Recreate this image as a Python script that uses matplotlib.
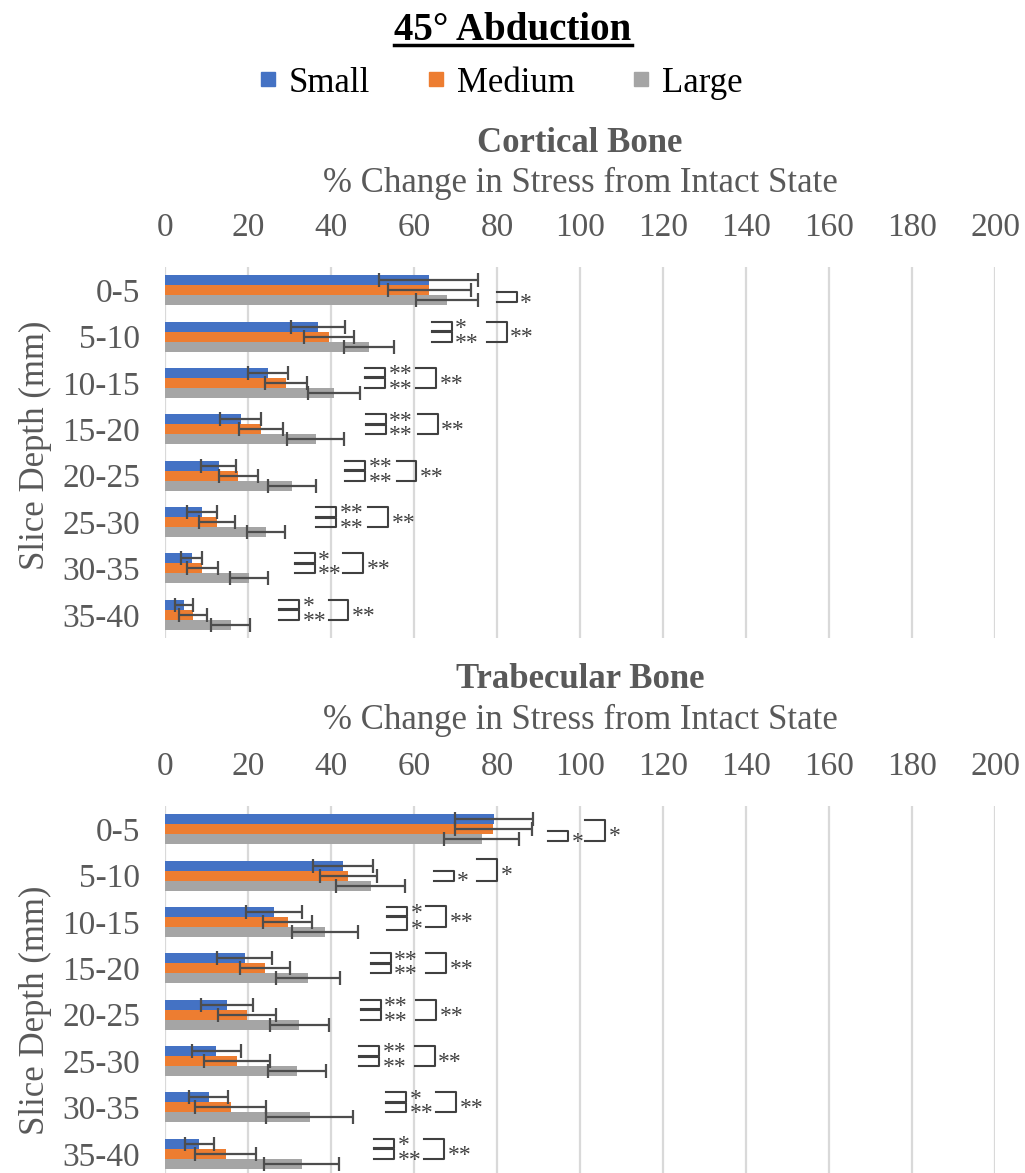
import numpy as np
import matplotlib.pyplot as plt
from matplotlib.lines import Line2D

plt.rcParams['font.family'] = ['Liberation Serif', 'DejaVu Serif']

# data
depths = ['0-5', '5-10', '10-15', '15-20', '20-25', '25-30', '30-35', '35-40']
sizes = ['Small', 'Medium', 'Large']
colors = ['#4472C4', '#ED7D31', '#A5A5A5']

cort_small = [63.5, 36.8, 24.8, 18.2, 12.9, 9.0, 6.4, 4.6]
cort_medium = [63.7, 39.6, 29.2, 23.2, 17.7, 12.5, 9.0, 6.7]
cort_large = [67.9, 49.2, 40.8, 36.3, 30.7, 24.3, 20.2, 15.8]
cort_small_err = [12.0, 6.5, 4.8, 4.9, 4.3, 3.6, 2.5, 2.1]
cort_medium_err = [10.0, 6.0, 5.0, 5.3, 4.8, 4.3, 3.8, 3.3]
cort_large_err = [7.5, 6.1, 6.3, 6.8, 5.8, 4.6, 4.5, 4.6]

trab_small = [79.3, 42.8, 26.3, 19.2, 14.9, 12.4, 10.5, 8.2]
trab_medium = [79.1, 44.2, 29.6, 24.1, 19.7, 17.4, 15.8, 14.6]
trab_large = [76.3, 49.6, 38.6, 34.4, 32.4, 31.7, 34.9, 32.9]
trab_small_err = [9.4, 7.2, 6.7, 6.6, 6.3, 5.8, 4.7, 3.5]
trab_medium_err = [9.3, 6.9, 5.9, 6.1, 7.0, 7.9, 8.5, 7.3]
trab_large_err = [9.0, 8.3, 8.0, 7.7, 7.0, 7.0, 10.5, 9.0]

xticks = [0, 20, 40, 60, 80, 100, 120, 140, 160, 180, 200]

# significance brackets: (depth index, left x, top, bottom [in bar heights], label)
cort_brackets = [
    (0, 79.9, 0.2, 1.2, '*'),
    (1, 64.3, -1.5, -0.55, '*'), (1, 64.3, -0.45, 0.5, '**'), (1, 77.5, -1.5, 0.5, '**'),
    (2, 48.2, -1.5, -0.55, '**'), (2, 48.2, -0.45, 0.5, '**'), (2, 60.6, -1.5, 0.5, '**'),
    (3, 48.4, -1.5, -0.55, '**'), (3, 48.4, -0.45, 0.5, '**'), (3, 60.9, -1.5, 0.5, '**'),
    (4, 43.4, -1.5, -0.55, '**'), (4, 43.4, -0.45, 0.5, '**'), (4, 55.8, -1.5, 0.5, '**'),
    (5, 36.5, -1.5, -0.55, '**'), (5, 36.5, -0.45, 0.5, '**'), (5, 49.0, -1.5, 0.5, '**'),
    (6, 31.3, -1.5, -0.55, '*'), (6, 31.3, -0.45, 0.5, '**'), (6, 42.9, -1.5, 0.5, '**'),
    (7, 27.5, -1.5, -0.55, '*'), (7, 27.5, -0.45, 0.5, '**'), (7, 39.4, -1.5, 0.5, '**'),
]
trab_brackets = [
    (0, 92.4, 0.2, 1.2, '*'), (0, 101.2, -0.9, 1.2, '*'),
    (1, 64.8, -0.5, 0.5, '*'), (1, 75.3, -1.7, 0.5, '*'),
    (2, 53.6, -1.5, -0.55, '*'), (2, 53.6, -0.45, 0.8, '*'), (2, 63.0, -1.6, 0.5, '**'),
    (3, 49.6, -1.5, -0.55, '**'), (3, 49.6, -0.45, 0.5, '**'), (3, 63.0, -1.5, 0.5, '**'),
    (4, 47.2, -1.5, -0.55, '**'), (4, 47.2, -0.45, 0.5, '**'), (4, 60.6, -1.5, 0.5, '**'),
    (5, 46.8, -1.5, -0.55, '**'), (5, 46.8, -0.45, 0.5, '**'), (5, 60.2, -1.5, 0.5, '**'),
    (6, 53.3, -1.5, -0.55, '*'), (6, 53.3, -0.45, 0.5, '**'), (6, 65.3, -1.5, 0.5, '**'),
    (7, 50.4, -1.5, -0.55, '*'), (7, 50.4, -0.45, 0.5, '**'), (7, 62.4, -1.5, 0.5, '**'),
]

W, H = 1025, 1173
GRAY = '#595959'
h = 0.215
bw = 4.8

fig = plt.figure(figsize=(W / 100, H / 100), dpi=100)


def panel(top_px, vals, errs, brackets, title, title_px, label_px):
    ax = fig.add_axes([165 / W, 1 - (top_px + 371) / H, 830 / W, 371 / H])
    y = np.arange(len(depths))
    for k in range(3):
        ax.barh(y + (k - 1) * h, vals[k], height=h, color=colors[k],
                xerr=errs[k], error_kw=dict(ecolor='#4d4d4d', elinewidth=1.6,
                                            capsize=5, capthick=1.6), zorder=3)
    ax.set_xlim(0, 200)
    ax.set_ylim(len(depths) - 0.5, -0.5)
    ax.set_xticks(xticks)
    ax.xaxis.tick_top()
    ax.set_yticks(y)
    ax.set_yticklabels(depths)
    ax.tick_params(axis='x', length=0, pad=17, labelsize=24, labelcolor=GRAY)
    ax.tick_params(axis='y', length=0, pad=18, labelsize=24, labelcolor=GRAY)
    ax.grid(axis='x', color='#D9D9D9', lw=1.6, zorder=0)
    for s in ax.spines.values():
        s.set_visible(False)
    for cat, x0, t, b, lab in brackets:
        y0, y1 = cat + t * h, cat + b * h
        ax.plot([x0, x0 + bw, x0 + bw, x0], [y0, y0, y1, y1], color='#404040',
                lw=1.5, zorder=4, clip_on=False)
        # asterisk glyph sits high in the em box, so put the baseline below
        dy = -5.5 if b < 0 else -8.5
        ax.annotate(lab, (x0 + bw, (y0 + y1) / 2), xytext=(2.5, dy),
                    textcoords='offset points', fontsize=17, color='#404040',
                    ha='left', va='baseline', annotation_clip=False)
    fig.text(580 / W, 1 - title_px / H, title, fontsize=25, fontweight='bold',
             color=GRAY, ha='center', va='center')
    fig.text(580 / W, 1 - (title_px + 40) / H, '% Change in Stress from Intact State',
             fontsize=25, color=GRAY, ha='center', va='center')
    fig.text(35 / W, 1 - label_px / H, 'Slice Depth (mm)', fontsize=25, color=GRAY,
             rotation=90, ha='center', va='center')
    return ax


panel(267, [cort_small, cort_medium, cort_large],
      [cort_small_err, cort_medium_err, cort_large_err], cort_brackets,
      'Cortical Bone', 143, 445)
panel(806, [trab_small, trab_medium, trab_large],
      [trab_small_err, trab_medium_err, trab_large_err], trab_brackets,
      'Trabecular Bone', 680, 1010)

# title with underline
t = fig.text(513 / W, 1 - 30 / H, '45° Abduction', fontsize=28, fontweight='bold',
             ha='center', va='center')
fig.canvas.draw()
bb = t.get_window_extent()
fig.add_artist(Line2D([bb.x0 / W, bb.x1 / W], [1 - 45 / H, 1 - 45 / H],
                      color='black', lw=2.5))

handles = [Line2D([], [], marker='s', ls='', color=c, markersize=10) for c in colors]
fig.legend(handles, sizes, loc='center', bbox_to_anchor=(500 / W, 1 - 83 / H),
           ncol=3, frameon=False, fontsize=25, handlelength=0.6,
           handletextpad=0.3, columnspacing=1.6)

fig.savefig('out.png', dpi=100)
